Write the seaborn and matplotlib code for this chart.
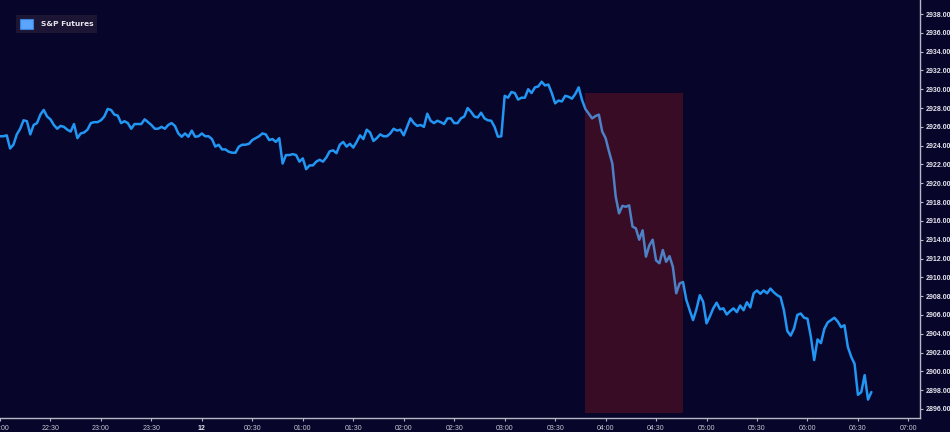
import matplotlib
matplotlib.use("Agg")
import matplotlib.pyplot as plt
import matplotlib.dates as mdates
from matplotlib.patches import Patch, Rectangle
import numpy as np
import pandas as pd
import seaborn as sns

# ---------------- data ----------------
start_time = "2019-08-11 22:00"
step = "2min"
prices = [
    2925.0, 2925.0, 2925.1, 2923.7, 2924.1, 2925.2, 2925.8, 2926.7, 2926.6, 2925.2,
    2926.2, 2926.4, 2927.3, 2927.8, 2927.1, 2926.8, 2926.2, 2925.8, 2926.1, 2926.0,
    2925.7, 2925.5, 2926.3, 2924.8, 2925.3, 2925.4, 2925.7, 2926.4, 2926.5, 2926.5,
    2926.7, 2927.1, 2927.9, 2927.8, 2927.3, 2927.2, 2926.4, 2926.6, 2926.4, 2925.8,
    2926.3, 2926.3, 2926.3, 2926.8, 2926.5, 2926.2, 2925.8, 2925.8, 2926.0, 2925.8,
    2926.2, 2926.4, 2926.1, 2925.3, 2924.95, 2925.3, 2924.95, 2925.6, 2924.95, 2925.0,
    2925.3, 2925.0, 2925.0, 2924.7, 2923.9, 2924.1, 2923.6, 2923.6, 2923.35, 2923.25,
    2923.25, 2923.9, 2924.1, 2924.1, 2924.2, 2924.6, 2924.8, 2925.0, 2925.3, 2925.2,
    2924.6, 2924.7, 2924.4, 2924.8, 2922.1, 2923.0, 2923.0, 2923.1, 2923.0, 2922.3,
    2922.65, 2921.5, 2921.9, 2921.9, 2922.3, 2922.5, 2922.3, 2922.75, 2923.4, 2923.5,
    2923.2, 2924.1, 2924.4, 2923.9, 2924.2, 2923.8, 2924.4, 2925.1, 2924.7, 2925.7,
    2925.4, 2924.5, 2924.8, 2925.2, 2925.0, 2925.0, 2925.3, 2925.8, 2925.6, 2925.7,
    2925.1, 2926.0, 2926.9, 2926.4, 2926.1, 2926.2, 2926.0, 2927.4, 2926.65, 2926.4,
    2926.65, 2926.5, 2926.3, 2926.9, 2926.9, 2926.4, 2926.4, 2926.9, 2927.1, 2928.0,
    2927.6, 2927.1, 2927.0, 2927.5, 2926.9, 2926.7, 2926.65, 2926.0, 2924.95, 2925.0,
    2929.3, 2929.1, 2929.7, 2929.6, 2928.9, 2929.1, 2929.1, 2930.0, 2929.6, 2930.2,
    2930.3, 2930.8, 2930.4, 2930.5, 2929.6, 2928.5, 2928.8, 2928.7, 2929.3, 2929.2,
    2929.0, 2929.5, 2930.2, 2928.85, 2927.9, 2927.4, 2926.9, 2927.15, 2927.3, 2925.5,
    2924.8, 2923.4, 2922.1, 2918.6, 2916.8, 2917.6, 2917.5, 2917.65, 2915.4, 2915.2,
    2914.0, 2915.0, 2912.2, 2913.4, 2914.0, 2911.8, 2911.5, 2912.9, 2911.65, 2912.25,
    2911.1, 2908.3, 2909.35, 2909.5, 2907.6, 2906.5, 2905.45, 2906.6, 2908.1, 2907.4,
    2905.1, 2905.85, 2906.7, 2907.3, 2906.6, 2906.7, 2906.05, 2906.4, 2906.7, 2906.3,
    2907.0, 2906.5, 2907.35, 2906.8, 2908.3, 2908.6, 2908.25, 2908.6, 2908.3, 2908.8,
    2908.4, 2908.1, 2907.9, 2906.5, 2904.3, 2903.8, 2904.55, 2906.0, 2906.15, 2905.7,
    2905.6, 2903.7, 2901.2, 2903.4, 2903.0, 2904.5, 2905.2, 2905.45, 2905.7, 2905.3,
    2904.7, 2904.9, 2902.6, 2901.55, 2900.8, 2897.5, 2897.8, 2899.6, 2897.0, 2897.8,
]
series_name = "S&P Futures"
highlight_start = "2019-08-12 03:47:40"
highlight_end = "2019-08-12 04:46:00"
highlight_low = 2895.6
highlight_high = 2929.6
y_ticks = list(range(2896, 2940, 2))

# ---------------- style ----------------
BG = "#08052b"
LINE = "#2196f3"
AXIS = "#b8b8c4"
TXT = "#e6e6ee"
TICK_FONT = ["Liberation Sans Narrow", "Liberation Sans", "DejaVu Sans"]

sns.set_theme(style="dark")
plt.rcParams["font.family"] = ["DejaVu Sans"]

times = pd.date_range(start=start_time, periods=len(prices), freq=step)
df = pd.DataFrame({"time": times, "price": prices})

fig = plt.figure(figsize=(9.5, 4.32), dpi=100, facecolor=BG)
ax = fig.add_axes([0.0, 1 - 418 / 432, 920 / 950, 418 / 432])
ax.set_facecolor(BG)

sns.lineplot(data=df, x="time", y="price", ax=ax, color=LINE, linewidth=1.8,
             legend=False, zorder=2)

t0 = pd.Timestamp(start_time)
ax.set_xlim(t0 + pd.Timedelta(minutes=2.3), t0 + pd.Timedelta(hours=9, minutes=6.9))
ax.set_ylim(2895.04, 2939.49)

hs = mdates.date2num(pd.Timestamp(highlight_start))
he = mdates.date2num(pd.Timestamp(highlight_end))
ax.add_patch(Rectangle((hs, highlight_low), he - hs, highlight_high - highlight_low,
                       facecolor="#ff2a10", alpha=0.2, edgecolor="none", zorder=3))

# y axis on the right
ax.yaxis.tick_right()
ax.set_yticks(y_ticks)
ax.set_yticklabels([f"{v:.2f}" for v in y_ticks])
xt = pd.date_range(t0, t0 + pd.Timedelta(hours=9), freq="30min")
ax.set_xticks(xt)
labels = []
for t in xt:
    labels.append("12" if (t.hour == 0 and t.minute == 0) else t.strftime("%H:%M"))
ax.set_xticklabels(labels)

ax.tick_params(axis="x", colors=AXIS, labelsize=5.0, length=2.5, width=0.8,
               pad=2.5, labelcolor="#c8c8d2", bottom=True)
ax.tick_params(axis="y", colors=AXIS, labelsize=5.0, length=2.5, width=0.8,
               pad=1.5, labelcolor=TXT, right=True, left=False)
for lab in ax.get_yticklabels():
    lab.set_fontweight("bold")
    lab.set_family(TICK_FONT)
for lab, t in zip(ax.get_xticklabels(), xt):
    lab.set_family(TICK_FONT)
    if t.hour == 0 and t.minute == 0:
        lab.set_fontweight("bold")
        lab.set_color(TXT)

ax.grid(False)
for s in ["top", "left"]:
    ax.spines[s].set_visible(False)
for s in ["bottom", "right"]:
    ax.spines[s].set_visible(True)
    ax.spines[s].set_color(AXIS)
    ax.spines[s].set_linewidth(1.0)
ax.set_xlabel("")
ax.set_ylabel("")

handle = Patch(facecolor="#5aa5ff", edgecolor="#3b7fd6", linewidth=0.8, label=series_name)
leg = ax.legend(handles=[handle], loc="upper left", bbox_to_anchor=(16 / 920, 1 - 15 / 418),
                frameon=True, fancybox=False, fontsize=5.4, handlelength=1.73,
                handleheight=1.73, handletextpad=1.05, borderpad=0.5, borderaxespad=0)
leg.get_frame().set_facecolor("#1c1634")
leg.get_frame().set_edgecolor("none")
leg.get_frame().set_alpha(1.0)
for t in leg.get_texts():
    t.set_color(TXT)
    t.set_fontweight("bold")

fig.savefig("out.png", dpi=100, facecolor=BG)
